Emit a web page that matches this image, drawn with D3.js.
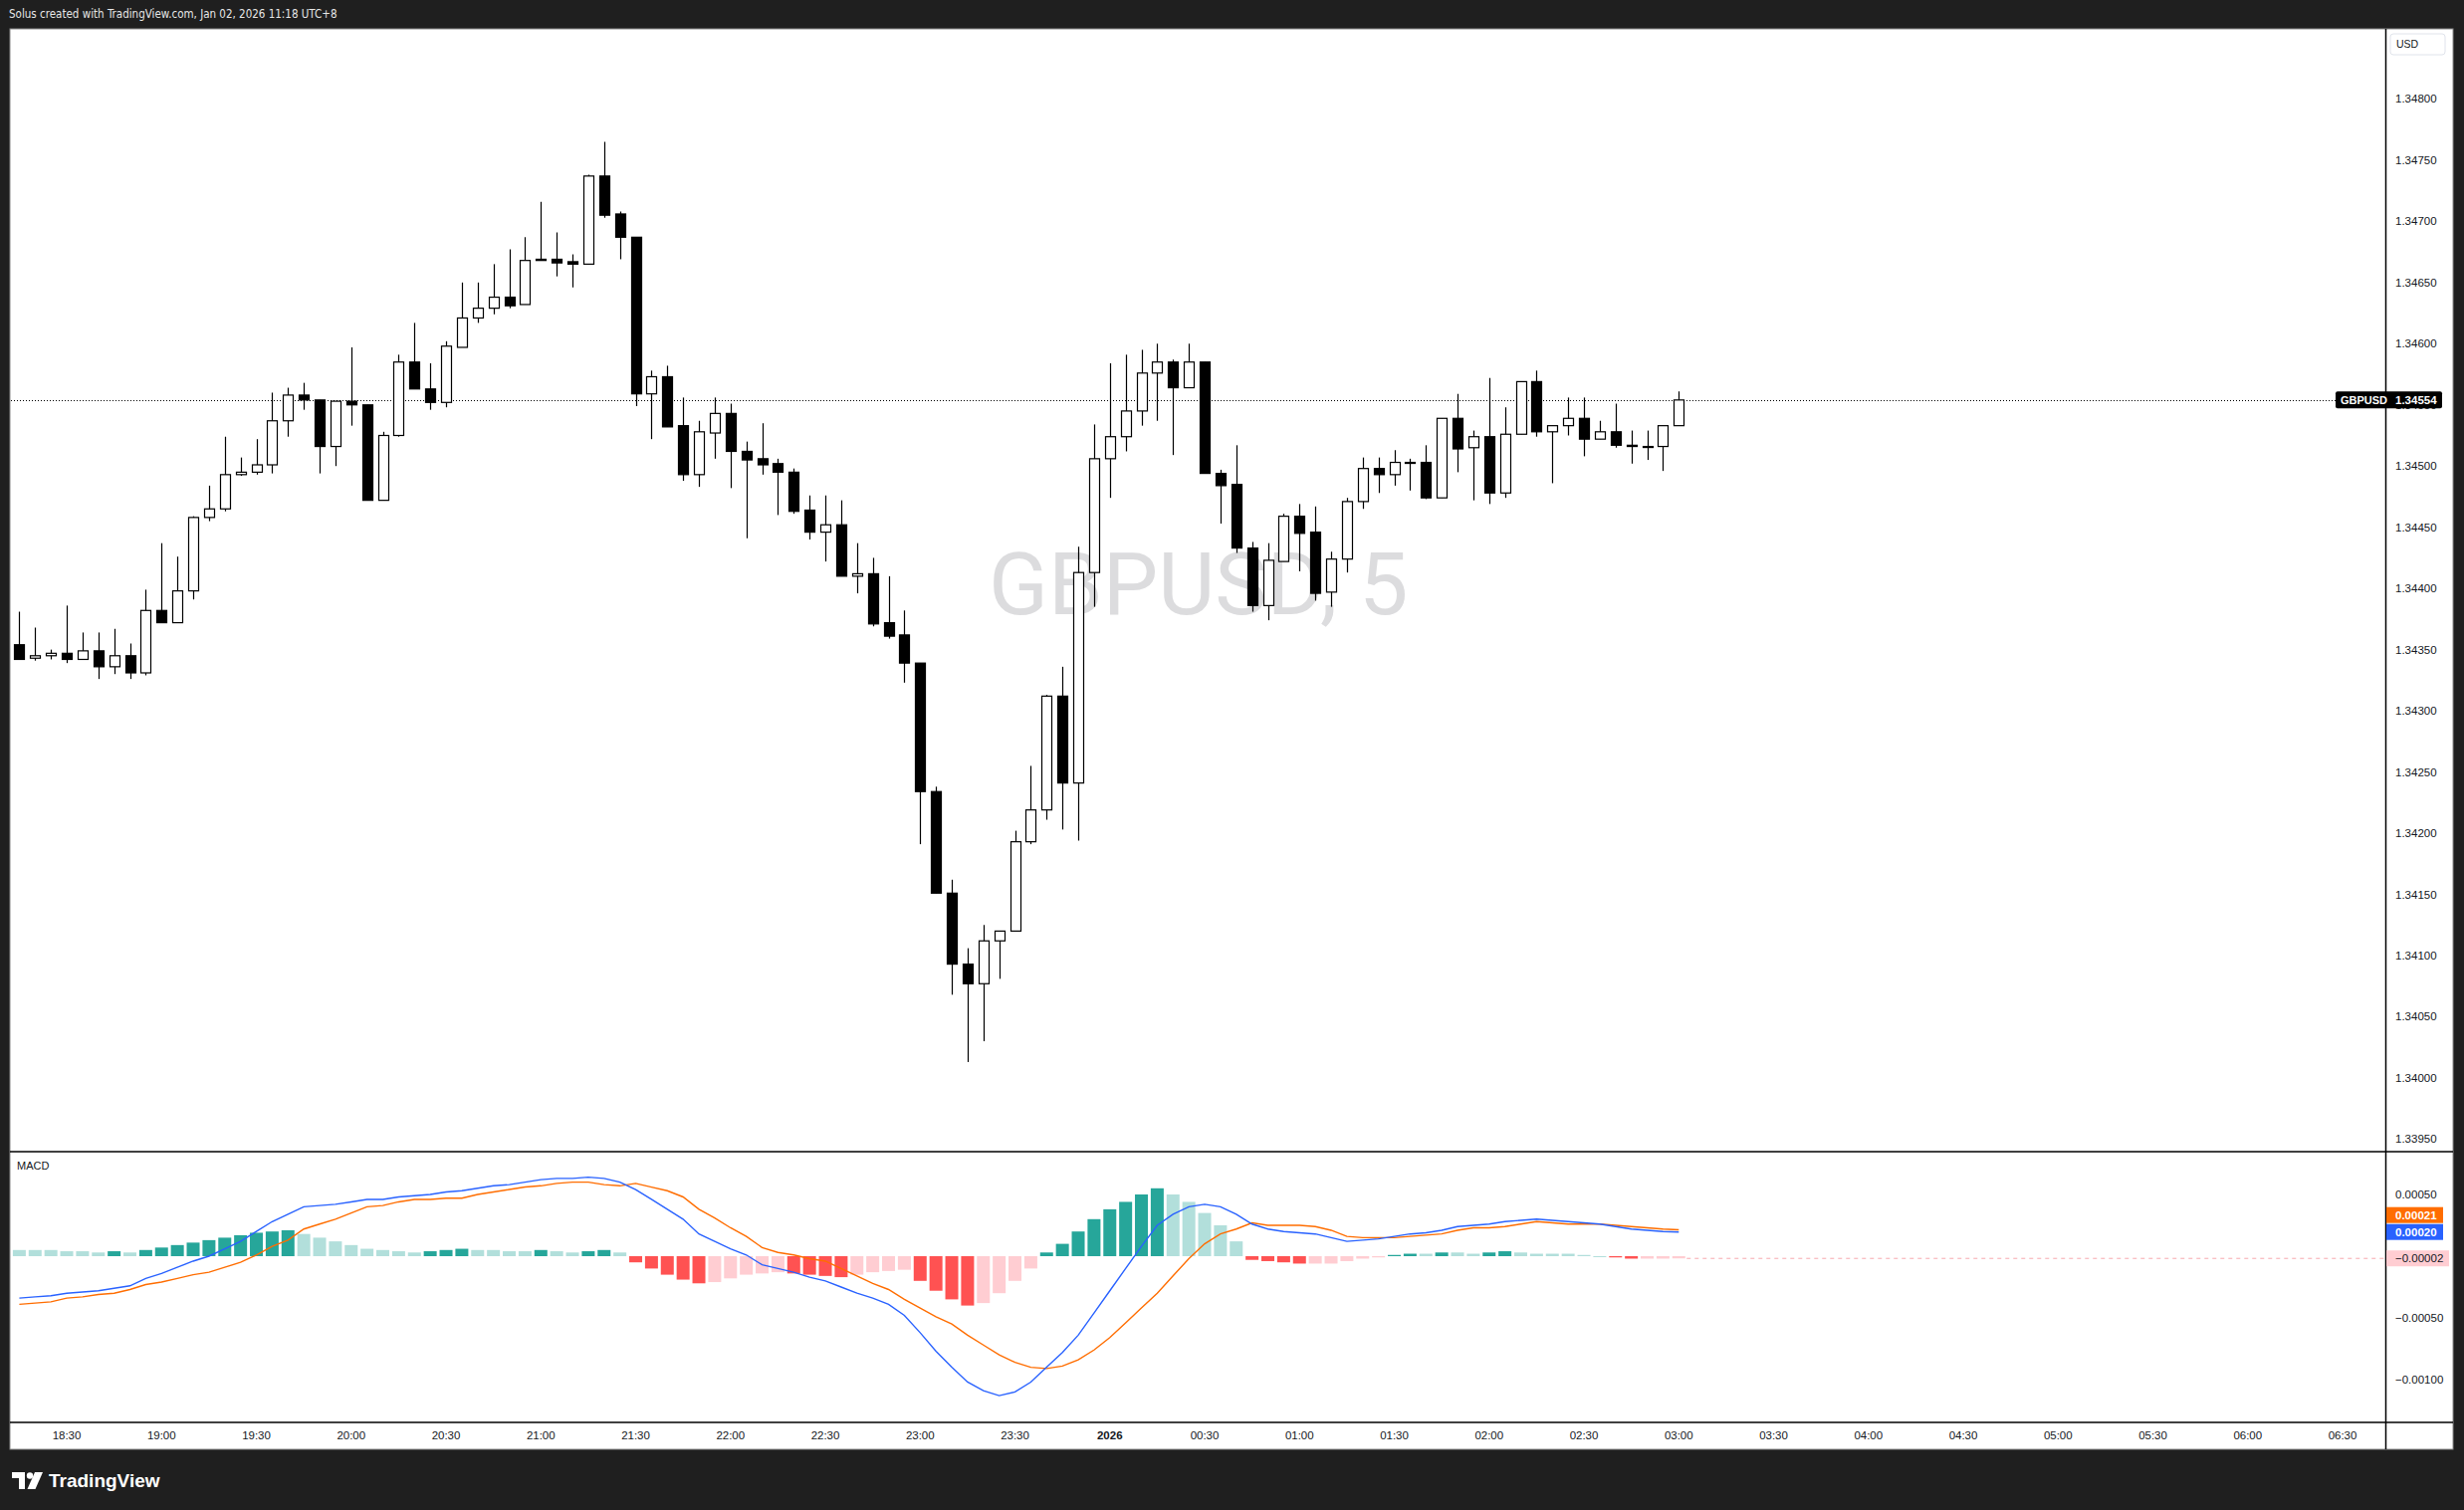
<!DOCTYPE html>
<html><head><meta charset="utf-8">
<script src="https://cdn.jsdelivr.net/npm/d3@7/dist/d3.min.js"></script>
<style>html,body{margin:0;padding:0;background:#1f1f1f;} svg{display:block;}</style>
</head><body><svg id="c" width="2475" height="1517"></svg>
<script>
// ---------- DATA ----------
const symbol = "GBPUSD";
const firstBarTime = "18:15";
const barMinutes = 5;
const opens  = [1.34354,1.34343,1.34345,1.34347,1.34342,1.34349,1.34336,1.34345,1.34331,1.34382,
1.34372,1.34398,1.34458,1.34465,1.34493,1.34495,1.34501,1.34537,1.34558,1.34554,
1.34516,1.34553,1.34550,1.34472,1.34525,1.34585,1.34563,1.34552,1.34597,1.34621,
1.34629,1.34638,1.34632,1.34669,1.34669,1.34667,1.34665,1.34737,1.34706,1.34687,
1.34559,1.34573,1.34533,1.34493,1.34527,1.34543,1.34512,1.34506,1.34502,1.34495,
1.34464,1.34446,1.34452,1.34410,1.34412,1.34372,1.34362,1.34339,1.34234,1.34151,
1.34093,1.34077,1.34112,1.34120,1.34193,1.34219,1.34312,1.34241,1.34413,1.34506,
1.34524,1.34545,1.34576,1.34585,1.34564,1.34585,1.34494,1.34485,1.34433,1.34386,
1.34422,1.34459,1.34446,1.34397,1.34424,1.34471,1.34498,1.34493,1.34503,1.34503,
1.34474,1.34539,1.34515,1.34524,1.34478,1.34526,1.34569,1.34528,1.34533,1.34539,
1.34522,1.34528,1.34517,1.34516,1.34516,1.34533];
const highs  = [1.34381,1.34368,1.34350,1.34386,1.34364,1.34364,1.34367,1.34355,1.34399,1.34437,
1.34426,1.34459,1.34484,1.34524,1.34507,1.34522,1.34560,1.34564,1.34568,1.34554,
1.34553,1.34597,1.34550,1.34528,1.34591,1.34617,1.34584,1.34602,1.34650,1.34650,
1.34665,1.34677,1.34687,1.34716,1.34691,1.34673,1.34738,1.34765,1.34708,1.34687,
1.34578,1.34582,1.34556,1.34537,1.34556,1.34551,1.34520,1.34535,1.34506,1.34498,
1.34476,1.34476,1.34472,1.34437,1.34425,1.34410,1.34382,1.34339,1.34238,1.34162,
1.34106,1.34125,1.34120,1.34202,1.34255,1.34313,1.34336,1.34434,1.34534,1.34584,
1.34591,1.34595,1.34600,1.34587,1.34600,1.34585,1.34497,1.34517,1.34438,1.34437,
1.34461,1.34469,1.34467,1.34430,1.34474,1.34507,1.34507,1.34513,1.34506,1.34517,
1.34539,1.34559,1.34529,1.34572,1.34548,1.34569,1.34578,1.34533,1.34556,1.34556,
1.34537,1.34551,1.34529,1.34529,1.34533,1.34561];
const lows   = [1.34342,1.34341,1.34342,1.34339,1.34342,1.34326,1.34330,1.34326,1.34329,1.34372,
1.34372,1.34391,1.34455,1.34463,1.34492,1.34493,1.34494,1.34524,1.34546,1.34494,
1.34500,1.34533,1.34472,1.34472,1.34524,1.34563,1.34546,1.34548,1.34597,1.34617,
1.34624,1.34629,1.34632,1.34668,1.34655,1.34646,1.34665,1.34703,1.34669,1.34549,
1.34522,1.34532,1.34488,1.34483,1.34506,1.34482,1.34441,1.34493,1.34460,1.34461,
1.34440,1.34422,1.34410,1.34396,1.34369,1.34359,1.34323,1.34191,1.34151,1.34068,
1.34013,1.34030,1.34081,1.34120,1.34191,1.34211,1.34203,1.34194,1.34385,1.34474,
1.34512,1.34533,1.34537,1.34509,1.34564,1.34494,1.34453,1.34429,1.34381,1.34374,
1.34422,1.34414,1.34390,1.34385,1.34413,1.34465,1.34478,1.34484,1.34480,1.34473,
1.34474,1.34495,1.34472,1.34469,1.34474,1.34526,1.34524,1.34486,1.34525,1.34508,
1.34522,1.34515,1.34502,1.34505,1.34496,1.34533];
const closes = [1.34342,1.34345,1.34347,1.34342,1.34349,1.34336,1.34345,1.34331,1.34382,1.34372,
1.34398,1.34458,1.34465,1.34493,1.34495,1.34501,1.34537,1.34558,1.34554,1.34516,
1.34553,1.34550,1.34472,1.34525,1.34585,1.34563,1.34552,1.34598,1.34621,1.34629,
1.34638,1.34631,1.34668,1.34668,1.34666,1.34665,1.34737,1.34705,1.34687,1.34559,
1.34573,1.34532,1.34493,1.34528,1.34543,1.34512,1.34505,1.34501,1.34495,1.34463,
1.34446,1.34452,1.34410,1.34412,1.34371,1.34361,1.34339,1.34234,1.34151,1.34093,
1.34077,1.34112,1.34120,1.34193,1.34219,1.34312,1.34241,1.34413,1.34506,1.34524,
1.34545,1.34576,1.34585,1.34564,1.34585,1.34494,1.34484,1.34433,1.34386,1.34423,
1.34459,1.34445,1.34396,1.34424,1.34471,1.34498,1.34493,1.34503,1.34503,1.34474,
1.34539,1.34514,1.34524,1.34478,1.34526,1.34569,1.34528,1.34533,1.34539,1.34522,
1.34528,1.34517,1.34516,1.34516,1.34533,1.34554];

// MACD (12,26,9) values in units of 0.00001
const macdPts = [-34,-33,-32,-30,-29,-28,-26,-24,-18,-14,-9,-4,0,6,12,20,28,34,40,41,
42,44,46,46,48,49,50,52,53,55,57,58,60,62,63,63,64,63,60,54,
46,38,30,18,12,6,1,-7,-10,-13,-17,-20,-25,-30,-34,-39,-48,-62,-77,-90,
-102,-109,-113,-110,-102,-90,-78,-64,-46,-28,-10,8,25,34,40,42,40,34,26,22,
20,19,18,15,12,13,14,16,18,19,21,24,25,26,28,29,30,29,28,27,
26,24,22,21,20,19.6];
const signalPts = [-39,-38,-37,-34,-33,-31,-30,-27,-23,-21,-18,-15,-13,-9,-5,1,8,13,22,26,
30,35,40,41,44,46,46,47,47,50,52,54,56,57,59,60,60,58,57,59,
56,53,48,38,31,23,16,7,3,1,-2,-4,-10,-16,-22,-27,-35,-42,-49,-55,
-64,-72,-80,-86,-90,-91,-89,-84,-76,-66,-54,-42,-30,-16,-2,10,18,22,27,25,
25,25,24,21,16,15,15,15,16,17,18,21,23,23,24,26,28,27,26,26,
26,25,24,23,22,21.4];
const histPts = [5,5,5,4,4,3,4,3,5,7,9,11,13,15,17,19,20,21,18,15,
12,9,6,5,4,3,4,5,6,5,5,4,4,5,4,3,4,5,3,-5,
-10,-15,-19,-22,-21,-18,-15,-14,-13,-14,-15,-16,-17,-15,-13,-12,-11,-20,-28,-35,
-40,-38,-30,-20,-10,3,10,20,30,38,44,50,55,50,44,35,25,12,-3,-4,
-5,-6,-6,-6,-4,-2,-1,1,2,2,3,3,2,3,4,3,2,2,2,1,
0,-1,-2,-2,-2,-1.8];
const macdUnit = 0.00001;

const timeLabels = ["18:30","19:00","19:30","20:00","20:30","21:00","21:30","22:00","22:30","23:00",
"23:30","2026","00:30","01:00","01:30","02:00","02:30","03:00","03:30","04:00","04:30","05:00","05:30","06:00","06:30"];
const firstLabelMinute = 15;   // 18:30 is 15 min after first bar
const labelStepMinutes = 30;
const priceTicks = [1.34800,1.34750,1.34700,1.34650,1.34600,1.34550,1.34500,1.34450,1.34400,1.34350,
1.34300,1.34250,1.34200,1.34150,1.34100,1.34050,1.34000,1.33950];
const macdTicks = [0.0005,-0.0005,-0.0010];
const lastPrice = 1.34554;

// ---------- LAYOUT ----------
const svg = d3.select("#c");
const W = 2475, H = 1517;
const panel = {x0:10, x1:2464, y0:29, y1:1456};
const axisX = 2396.5;
const mainTop = 29, mainBot = 1157, macdTop = 1157, macdBot = 1429;
const fontUI = "'Liberation Sans', Arial, sans-serif";

svg.append("rect").attr("width",W).attr("height",H).attr("fill","#1f1f1f");
svg.append("text").attr("x",9).attr("y",18).attr("fill","#e6e6e6")
  .attr("font-family","'DejaVu Sans Condensed','Liberation Sans',sans-serif").attr("font-size",11.5)
  .text("Solus created with TradingView.com, Jan 02, 2026 11:18 UTC+8");
svg.append("rect").attr("x",panel.x0).attr("y",panel.y0).attr("width",panel.x1-panel.x0).attr("height",panel.y1-panel.y0)
  .attr("fill","#ffffff").attr("stroke","#8a8a8a").attr("stroke-width",1);

const n = closes.length;
const x = d3.scaleLinear().domain([0,(n-1)*barMinutes]).range([19.4, 19.4 + 15.875*(n-1)]);
const bx = i => x(i*barMinutes);
const y = d3.scaleLinear().domain([1.3395,1.348]).range([1144.4,99.4]);
const ym = d3.scaleLinear().domain([-0.001,0.0005]).range([1386,1200]);

const defs = svg.append("defs");
defs.append("clipPath").attr("id","mainclip").append("rect").attr("x",11).attr("y",mainTop+1).attr("width",axisX-11).attr("height",mainBot-mainTop-1);
defs.append("clipPath").attr("id","macdclip").append("rect").attr("x",11).attr("y",macdTop+1).attr("width",axisX-11).attr("height",macdBot-macdTop-1);

// watermark
svg.append("text").attr("x",(11+axisX)/2).attr("y",617).attr("text-anchor","middle")
  .attr("font-family","Roboto, 'Liberation Sans', sans-serif").attr("font-size",88).attr("fill","#dcdcde")
  .text(symbol + ", 5");

// last price dotted line
const gMain = svg.append("g").attr("clip-path","url(#mainclip)");
gMain.append("line").attr("x1",11).attr("x2",axisX).attr("y1",Math.round(y(lastPrice))+0.5).attr("y2",Math.round(y(lastPrice))+0.5)
  .attr("stroke","#000").attr("stroke-width",1).attr("stroke-dasharray","1,2");

// candles
const idx = d3.range(n);
gMain.selectAll("line.wick").data(idx).join("line").attr("class","wick")
  .attr("x1",i=>Math.round(bx(i))+0.5).attr("x2",i=>Math.round(bx(i))+0.5)
  .attr("y1",i=>y(highs[i])).attr("y2",i=>y(lows[i]))
  .attr("stroke","#000").attr("stroke-width",1.2);
gMain.selectAll("rect.body").data(idx).join("rect").attr("class","body")
  .attr("x",i=>Math.round(bx(i))-4.5).attr("width",10)
  .attr("y",i=>y(Math.max(opens[i],closes[i])))
  .attr("height",i=>Math.max(1,Math.abs(y(opens[i])-y(closes[i]))))
  .attr("fill",i=>closes[i]>opens[i]?"#ffffff":"#000000")
  .attr("stroke","#000").attr("stroke-width",1.2);

// MACD pane
const gM = svg.append("g").attr("clip-path","url(#macdclip)");
const lastHist = histPts[n-1]*macdUnit;
gM.append("line").attr("x1",bx(n-1)+8).attr("x2",axisX).attr("y1",ym(lastHist)).attr("y2",ym(lastHist))
  .attr("stroke","#f7a8ae").attr("stroke-width",1).attr("stroke-dasharray","4,4");
const histColor = i => {
  const h = histPts[i], p = i>0 ? histPts[i-1] : h;
  if (h >= 0) return h > p ? "#26a69a" : "#b2dfdb";
  return h < p ? "#ff5252" : "#ffcdd2";
};
gM.selectAll("rect.hist").data(idx).join("rect").attr("class","hist")
  .attr("x",i=>bx(i)-6.5).attr("width",13)
  .attr("y",i=>Math.min(ym(0),ym(histPts[i]*macdUnit)))
  .attr("height",i=>Math.max(1,Math.abs(ym(0)-ym(histPts[i]*macdUnit))))
  .attr("fill",histColor);
const lineGen = arr => d3.line().x((d,i)=>bx(i)).y(d=>ym(d*macdUnit)).curve(d3.curveLinear)(arr);
gM.append("path").attr("d",lineGen(signalPts)).attr("fill","none").attr("stroke","#ff6d00").attr("stroke-width",1.4);
gM.append("path").attr("d",lineGen(macdPts)).attr("fill","none").attr("stroke","#2962ff").attr("stroke-width",1.4);
svg.append("text").attr("x",17).attr("y",1175).attr("font-family",fontUI).attr("font-size",11).attr("fill","#131722").text("MACD");

// separators
svg.append("line").attr("x1",axisX).attr("x2",axisX).attr("y1",panel.y0).attr("y2",panel.y1).attr("stroke","#000").attr("stroke-width",1.5);
svg.append("line").attr("x1",panel.x0).attr("x2",panel.x1).attr("y1",mainBot).attr("y2",mainBot).attr("stroke","#000").attr("stroke-width",1.5);
svg.append("line").attr("x1",panel.x0).attr("x2",panel.x1).attr("y1",macdBot).attr("y2",macdBot).attr("stroke","#000").attr("stroke-width",1.5);

// price axis
const fmt5 = d3.format(".5f");
svg.selectAll("text.pt").data(priceTicks).join("text").attr("class","pt")
  .attr("x",2406).attr("y",d=>y(d)).attr("dy","0.35em")
  .attr("font-family",fontUI).attr("font-size",11.5).attr("fill","#131722").text(d=>fmt5(d));
svg.selectAll("text.mt").data(macdTicks).join("text").attr("class","mt")
  .attr("x",2406).attr("y",d=>ym(d)).attr("dy","0.35em")
  .attr("font-family",fontUI).attr("font-size",11.5).attr("fill","#131722").text(d=>fmt5(d).replace("-","\u2212"));

// USD box
svg.append("rect").attr("x",2401).attr("y",34).attr("width",55).attr("height",21).attr("rx",3)
  .attr("fill","#fff").attr("stroke","#e0e3eb");
svg.append("text").attr("x",2407).attr("y",44.5).attr("dy","0.35em").attr("font-family",fontUI).attr("font-size",10.5).attr("fill","#131722").text("USD");

// last price label
const yl = y(lastPrice);
svg.append("rect").attr("x",2346).attr("y",yl-8.5).attr("width",107).attr("height",17).attr("rx",2).attr("fill","#000");
svg.append("text").attr("x",2351).attr("y",yl).attr("dy","0.36em").attr("font-family",fontUI).attr("font-weight","bold").attr("font-size",11).attr("fill","#fff").text(symbol);
svg.append("text").attr("x",2406).attr("y",yl).attr("dy","0.36em").attr("font-family",fontUI).attr("font-weight","bold").attr("font-size",11.5).attr("fill","#fff").text(fmt5(lastPrice));

// MACD last value labels
const yMacd = ym(macdPts[n-1]*macdUnit);
const labels = [
  {v:signalPts[n-1]*macdUnit, yc:yMacd-17, bg:"#ff6d00", fg:"#fff", w:57},
  {v:macdPts[n-1]*macdUnit, yc:yMacd, bg:"#2962ff", fg:"#fff", w:57},
  {v:lastHist, yc:ym(lastHist), bg:"#ffcdd2", fg:"#131722", w:63}
];
labels.forEach(l=>{
  svg.append("rect").attr("x",axisX+0.5).attr("y",l.yc-8).attr("width",l.w).attr("height",16).attr("fill",l.bg);
  svg.append("text").attr("x",2406).attr("y",l.yc).attr("dy","0.36em").attr("font-family",fontUI).attr("font-size",11.5)
    .attr("font-weight", l.fg==="#fff"?"bold":"normal").attr("fill",l.fg).text(fmt5(l.v).replace("-","\u2212"));
});

// time axis
svg.selectAll("text.tt").data(timeLabels).join("text").attr("class","tt")
  .attr("x",(d,k)=>x(firstLabelMinute + k*labelStepMinutes)).attr("y",1442).attr("dy","0.35em")
  .attr("text-anchor","middle").attr("font-family",fontUI).attr("font-size",11.5)
  .attr("font-weight",d=>d==="2026"?"bold":"normal").attr("fill","#131722").text(d=>d);

// TradingView logo
const logo = svg.append("g").attr("fill","#ffffff");
logo.append("path").attr("d","M12,1479 h13 v17 h-6 v-11 h-7 z");
logo.append("circle").attr("cx",30).attr("cy",1482.5).attr("r",3.2);
logo.append("path").attr("d","M35,1479 h8 l-7.5,17 h-8 z");
svg.append("text").attr("x",49).attr("y",1494).attr("font-family",fontUI).attr("font-weight","bold")
  .attr("font-size",19).attr("fill","#ffffff").text("TradingView");
</script></body></html>
